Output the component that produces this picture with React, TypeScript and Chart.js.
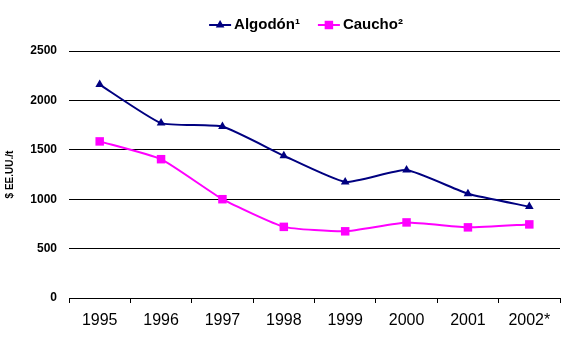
import React, { useEffect, useRef } from 'react';
import { Chart, registerables } from 'chart.js';

Chart.register(...registerables);

const years = ['1995', '1996', '1997', '1998', '1999', '2000', '2001', '2002*'];
const algodon = [2160, 1770, 1735, 1440, 1175, 1295, 1055, 925];
const caucho = [1585, 1405, 1000, 720, 675, 765, 715, 745];
const seriesNames = ['Algodón¹', 'Caucho²'];
const yTitle = '$ EE.UU./t';

const FONT = '"Liberation Sans", Arial, sans-serif';

const lineLegend = {
  id: 'lineLegend',
  afterDraw(chart: any) {
    const ctx = chart.ctx as CanvasRenderingContext2D;
    ctx.save();
    ctx.font = 'bold 15px ' + FONT;
    ctx.textBaseline = 'middle';
    const lineW = 22;
    const gapText = 3;
    const gapItem = 18;
    const items = chart.data.datasets.map((ds: any) => ({
      label: ds.label,
      color: ds.borderColor,
      style: ds.pointStyle,
      r: ds.pointRadius,
      w: ctx.measureText(ds.label).width,
    }));
    let total = 0;
    items.forEach((it: any, i: number) => {
      total += lineW + gapText + it.w + (i > 0 ? gapItem : 0);
    });
    let x = chart.width / 2 + 14 - total / 2;
    const y = 25;
    items.forEach((it: any) => {
      ctx.strokeStyle = it.color;
      ctx.fillStyle = it.color;
      ctx.lineWidth = 2;
      ctx.beginPath();
      ctx.moveTo(x, y);
      ctx.lineTo(x + lineW, y);
      ctx.stroke();
      const cx = x + lineW / 2;
      ctx.beginPath();
      if (it.style === 'triangle') {
        const r = it.r;
        ctx.moveTo(cx, y - r);
        ctx.lineTo(cx - r * 0.866, y + r / 2);
        ctx.lineTo(cx + r * 0.866, y + r / 2);
        ctx.closePath();
      } else {
        const s = it.r * Math.SQRT1_2;
        ctx.rect(cx - s, y - s, 2 * s, 2 * s);
      }
      ctx.fill();
      ctx.fillStyle = '#000';
      ctx.fillText(it.label, x + lineW + gapText, y);
      x += lineW + gapText + it.w + gapItem;
    });
    ctx.restore();
  },
};

export default function App() {
  const ref = useRef<HTMLCanvasElement>(null);
  useEffect(() => {
    document.body.style.margin = '0';
    const chart = new Chart(ref.current as HTMLCanvasElement, {
      type: 'line',
      data: {
        labels: years,
        datasets: [
          {
            label: seriesNames[0],
            data: algodon,
            borderColor: '#000080',
            backgroundColor: '#000080',
            borderWidth: 2,
            pointStyle: 'triangle',
            pointRadius: 5,
            pointBorderWidth: 0,
            tension: 0.15,
          },
          {
            label: seriesNames[1],
            data: caucho,
            borderColor: '#FF00FF',
            backgroundColor: '#FF00FF',
            borderWidth: 2,
            pointStyle: 'rect',
            pointRadius: 6,
            pointBorderWidth: 0,
            tension: 0.15,
          },
        ],
      },
      options: {
        responsive: false,
        animation: false,
        layout: { padding: { top: 51, right: 24, left: 0, bottom: 0 } },
        plugins: {
          legend: { display: false },
          tooltip: { enabled: false },
        },
        scales: {
          x: {
            offset: true,
            grid: {
              offset: true,
              drawOnChartArea: false,
              drawTicks: true,
              tickLength: 5,
              color: '#000',
            },
            border: { color: '#000', width: 1 },
            ticks: {
              color: '#000',
              font: { family: FONT, size: 16 },
              padding: 8,
              maxRotation: 0,
            },
            afterFit: (s: any) => {
              s.height = 65;
            },
          },
          y: {
            min: 0,
            max: 2500,
            ticks: {
              stepSize: 500,
              color: '#000',
              font: { family: FONT, size: 12, weight: 'bold' },
              padding: 12,
              callback: (v: any) => String(v),
            },
            grid: { color: '#000', drawTicks: false, lineWidth: 1 },
            border: { display: false },
            title: {
              display: true,
              text: yTitle,
              color: '#000',
              font: { family: FONT, size: 10, weight: 'bold' },
              padding: { top: 4, bottom: 0 },
            },
            afterFit: (s: any) => {
              s.width = 69;
            },
          },
        },
      },
      plugins: [lineLegend],
    });
    return () => chart.destroy();
  }, []);
  return (
    <div style={{ width: 584, height: 363, background: '#fff' }}>
      <canvas ref={ref} width={584} height={363} />
    </div>
  );
}
